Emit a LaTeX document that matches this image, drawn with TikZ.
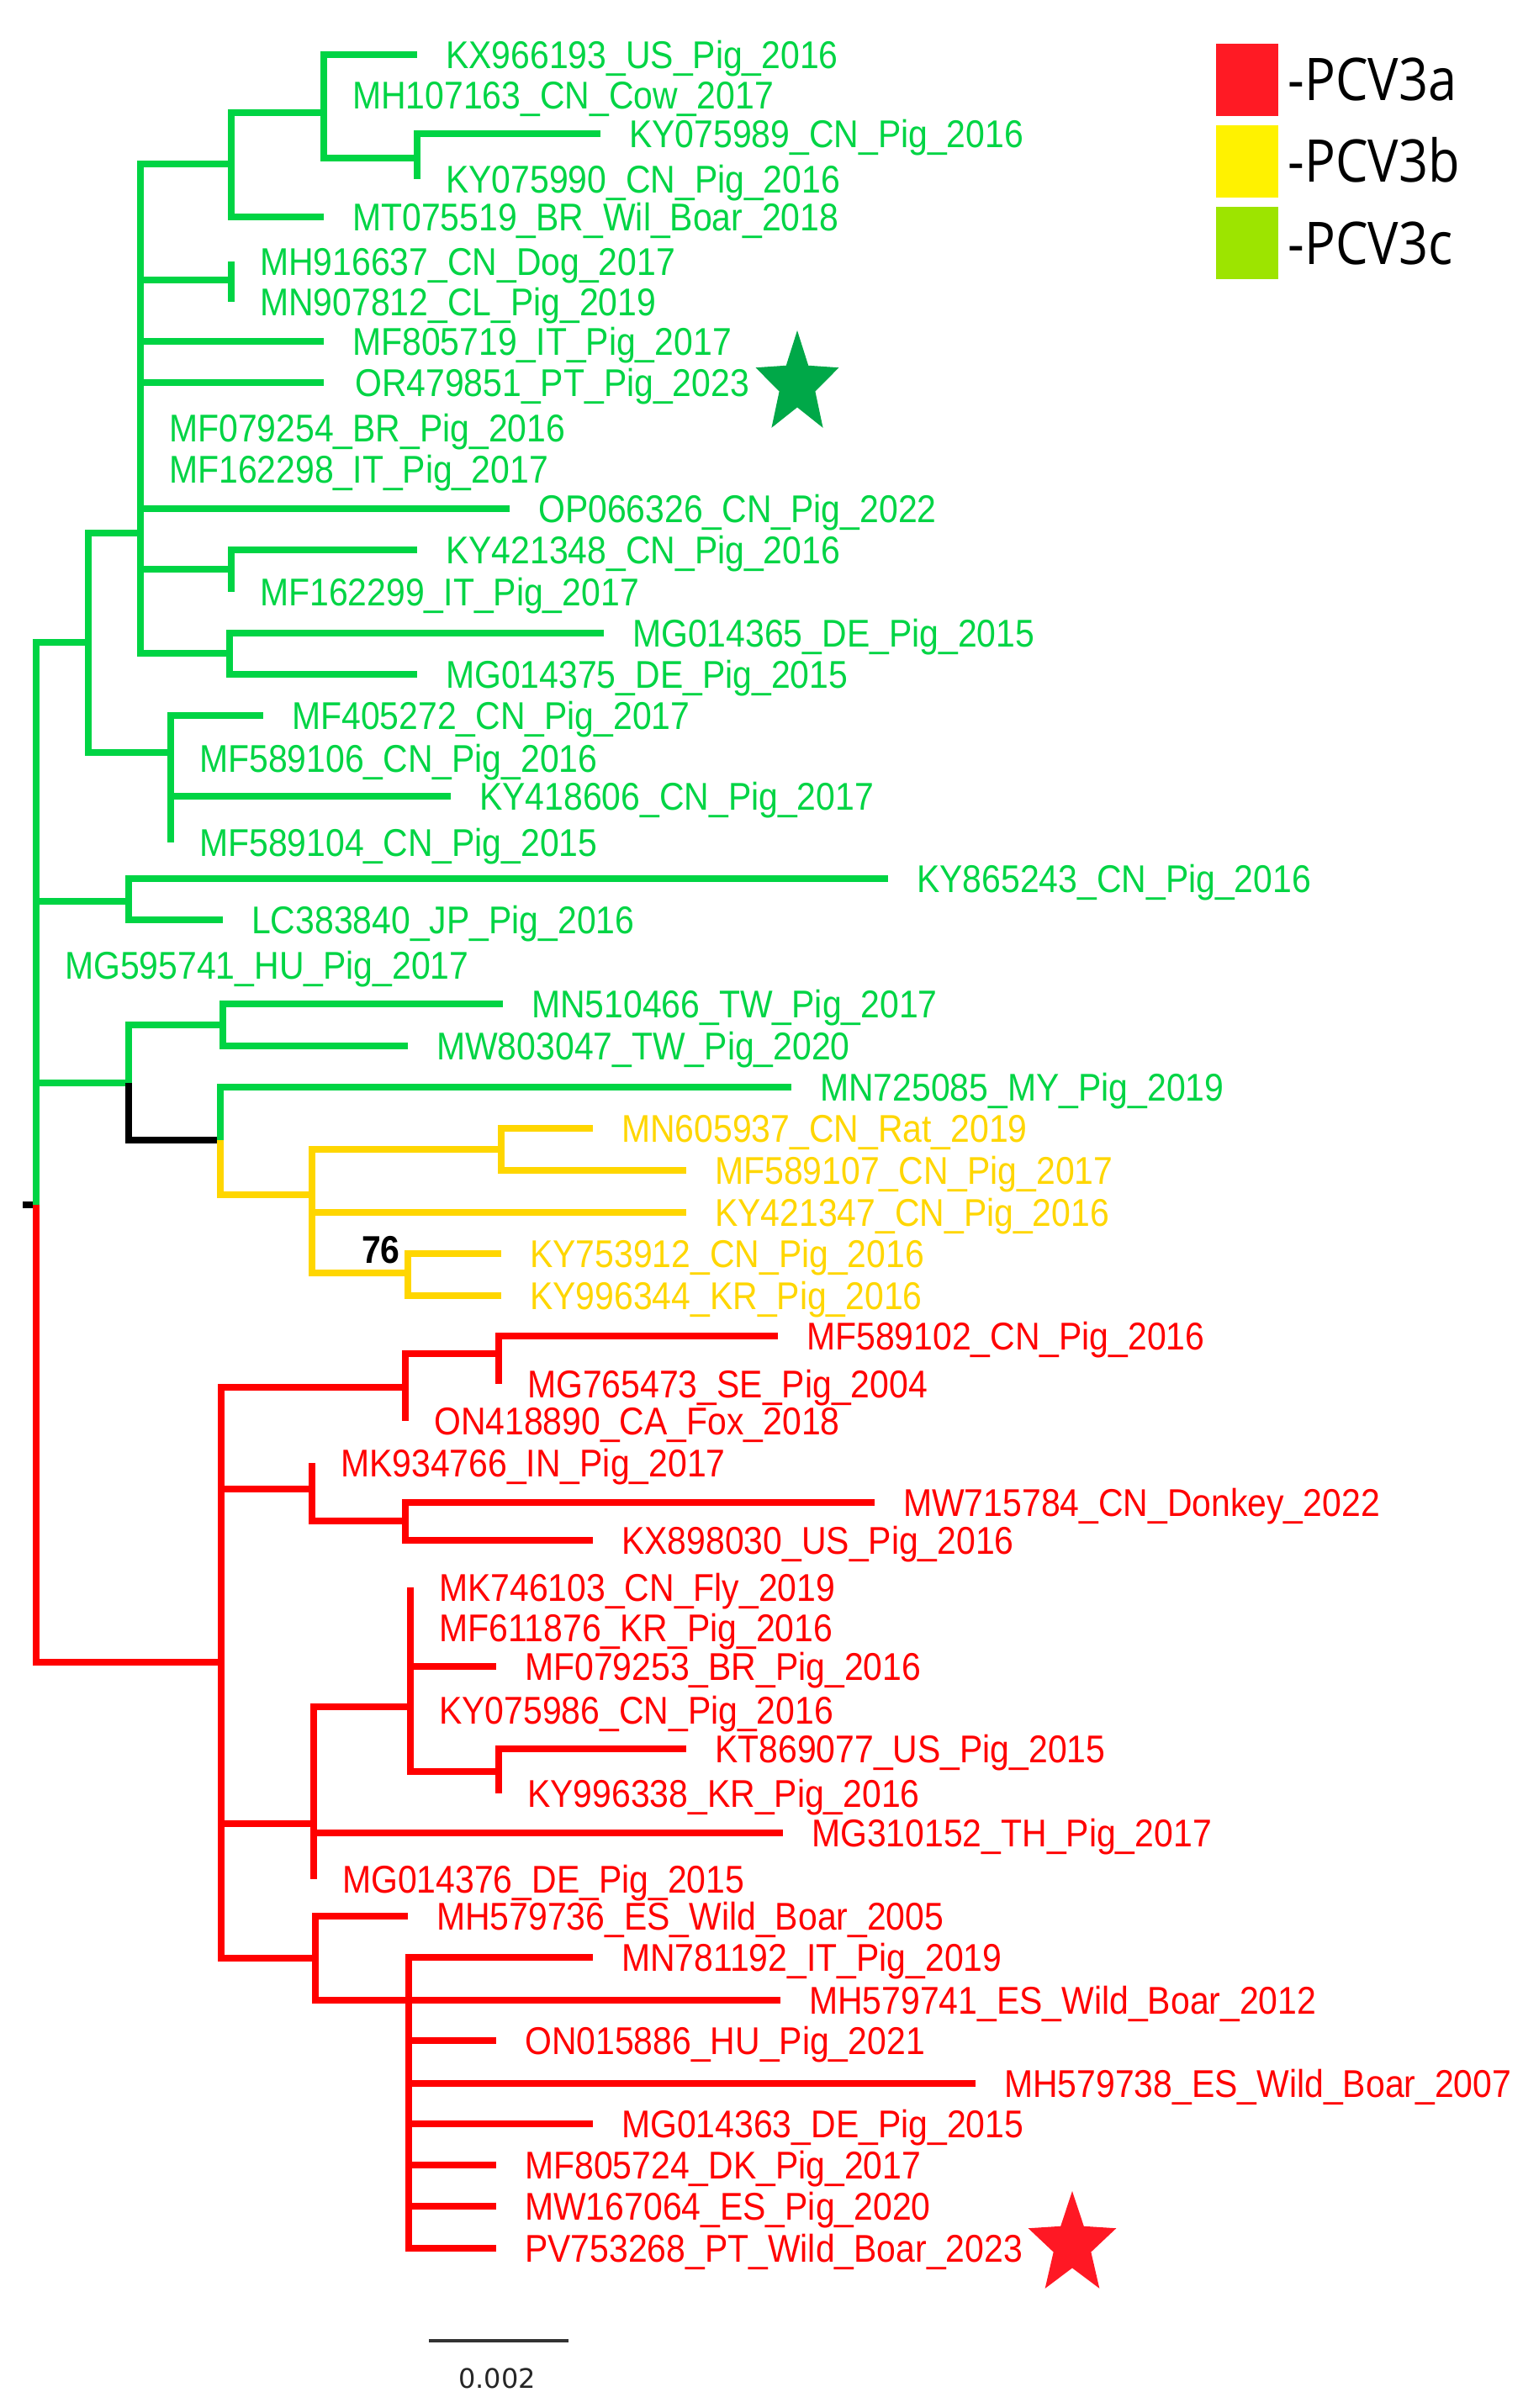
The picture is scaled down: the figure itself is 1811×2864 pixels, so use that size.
\documentclass[tikz,border=0pt]{standalone}
\usepackage{fontspec}
\usepackage{tikz}
\usetikzlibrary{positioning}

\newfontfamily\labfont[FakeStretch=0.89]{Liberation Sans}
\newfontfamily\legfont[FakeStretch=0.875]{Open Sans}
\newfontfamily\scafont{DejaVu Sans}

\definecolor{cgreen}{RGB}{0,212,68}
\definecolor{cyellow}{RGB}{255,214,0}
\definecolor{cred}{RGB}{255,0,0}
\definecolor{stargreen}{RGB}{0,168,72}
\definecolor{starred}{RGB}{255,24,36}
\definecolor{legred}{RGB}{255,26,36}
\definecolor{legyellow}{RGB}{255,242,0}
\definecolor{leggreen}{RGB}{157,228,0}

\tikzset{
    branch/.style={
    line width=8pt,line cap=butt,line join=miter,to path={|- (\tikztotarget)}
    },
    gbr/.style={branch,draw=cgreen},
    ybr/.style={branch,draw=cyellow},
    rbr/.style={branch,draw=cred},
    kbr/.style={branch,draw=black},
    tiplab/.style={
    anchor=west,inner sep=0pt,text height=33pt,text depth=0pt,
    font=\labfont\fontsize{46}{46}\selectfont
    },
    glab/.style={tiplab,text=cgreen},
    ylab/.style={tiplab,text=cyellow},
    rlab/.style={tiplab,text=cred},
    bootlab/.style={
    inner sep=0pt,text height=33pt,text depth=0pt,
    font=\labfont\bfseries\fontsize{46}{46}\selectfont
    },
    legbox/.style={
    rectangle,inner sep=0pt,minimum width=74pt,minimum height=86pt
    },
    legtxt/.style={
    anchor=west,inner sep=0pt,text height=50pt,text depth=0pt,
    font=\legfont\fontsize{70}{70}\selectfont
    },
    scalebar/.style={line width=4pt,draw=black!80},
    scalelab/.style={
    inner sep=0pt,text height=23pt,text depth=0pt,text=black!85,
    font=\scafont\fontsize{32}{32}\selectfont
    },
}

\begin{document}
\begin{tikzpicture}[x=1pt,y=-1pt,node distance=34pt]
   \useasboundingbox (0,0) rectangle (1811,2864);

   % inner nodes
   \coordinate (stem) at (27,1433);
   \coordinate (root) at (43,1433);
   \coordinate (g1) at (105,764);
   \coordinate (g2) at (167,634);
   \coordinate (g3) at (275,195);
   \coordinate (g4) at (385,134);
   \coordinate (g5) at (496,188);
   \coordinate (g6) at (275,333);
   \coordinate (g7) at (275,677);
   \coordinate (g8) at (273,777);
   \coordinate (g9) at (203,895);
   \coordinate (g10) at (153,1072);
   \coordinate (g11) at (153,1288);
   \coordinate (g12) at (265,1219);
   \coordinate (g13) at (262,1356);
   \coordinate (y1) at (371,1421);
   \coordinate (y2) at (596,1367);
   \coordinate (y3) at (485,1514);
   \coordinate (a1) at (263,1977);
   \coordinate (a2) at (482,1650);
   \coordinate (a3) at (593,1610);
   \coordinate (a4) at (371,1771);
   \coordinate (a5) at (482,1809);
   \coordinate (a6) at (373,2169);
   \coordinate (a7) at (488,2030);
   \coordinate (a8) at (593,2107);
   \coordinate (a9) at (375,2329);
   \coordinate (a10) at (486,2379);

   % PCV3c tips
   \coordinate (tKX966193) at (496,65);   \node[glab,right=of tKX966193] (KX966193) {KX966193\_US\_Pig\_2016};
   \coordinate (tMH107163) at (385,113);  \node[glab,right=of tMH107163] (MH107163) {MH107163\_CN\_Cow\_2017};
   \coordinate (tKY075989) at (714,159);  \node[glab,right=of tKY075989] (KY075989) {KY075989\_CN\_Pig\_2016};
   \coordinate (tKY075990) at (496,213);  \node[glab,right=of tKY075990] (KY075990) {KY075990\_CN\_Pig\_2016};
   \coordinate (tMT075519) at (385,258);  \node[glab,right=of tMT075519] (MT075519) {MT075519\_BR\_Wil\_Boar\_2018};
   \coordinate (tMH916637) at (275,311);  \node[glab,right=of tMH916637] (MH916637) {MH916637\_CN\_Dog\_2017};
   \coordinate (tMN907812) at (275,359);  \node[glab,right=of tMN907812] (MN907812) {MN907812\_CL\_Pig\_2019};
   \coordinate (tMF805719) at (385,406);  \node[glab,right=of tMF805719] (MF805719) {MF805719\_IT\_Pig\_2017};
   \coordinate (tOR479851) at (385,455);  \node[glab,right=37pt of tOR479851] (OR479851) {OR479851\_PT\_Pig\_2023};
   \coordinate (tMF079254) at (167,509);  \node[glab,right=of tMF079254] (MF079254) {MF079254\_BR\_Pig\_2016};
   \coordinate (tMF162298) at (167,558);  \node[glab,right=of tMF162298] (MF162298) {MF162298\_IT\_Pig\_2017};
   \coordinate (tOP066326) at (606,605);  \node[glab,right=of tOP066326] (OP066326) {OP066326\_CN\_Pig\_2022};
   \coordinate (tKY421348) at (496,654);  \node[glab,right=of tKY421348] (KY421348) {KY421348\_CN\_Pig\_2016};
   \coordinate (tMF162299) at (275,704);  \node[glab,right=of tMF162299] (MF162299) {MF162299\_IT\_Pig\_2017};
   \coordinate (tMG014365) at (718,753);  \node[glab,right=of tMG014365] (MG014365) {MG014365\_DE\_Pig\_2015};
   \coordinate (tMG014375) at (496,802);  \node[glab,right=of tMG014375] (MG014375) {MG014375\_DE\_Pig\_2015};
   \coordinate (tMF405272) at (313,851);  \node[glab,right=of tMF405272] (MF405272) {MF405272\_CN\_Pig\_2017};
   \coordinate (tMF589106) at (203,902);  \node[glab,right=of tMF589106] (MF589106) {MF589106\_CN\_Pig\_2016};
   \coordinate (tKY418606) at (536,947);  \node[glab,right=of tKY418606] (KY418606) {KY418606\_CN\_Pig\_2017};
   \coordinate (tMF589104) at (203,1002); \node[glab,right=of tMF589104] (MF589104) {MF589104\_CN\_Pig\_2015};
   \coordinate (tKY865243) at (1056,1045);\node[glab,right=of tKY865243] (KY865243) {KY865243\_CN\_Pig\_2016};
   \coordinate (tLC383840) at (265,1094); \node[glab,right=of tLC383840] (LC383840) {LC383840\_JP\_Pig\_2016};
   \coordinate (tMG595741) at (43,1148);  \node[glab,right=of tMG595741] (MG595741) {MG595741\_HU\_Pig\_2017};
   \coordinate (tMN510466) at (598,1194); \node[glab,right=of tMN510466] (MN510466) {MN510466\_TW\_Pig\_2017};
   \coordinate (tMW803047) at (485,1244); \node[glab,right=of tMW803047] (MW803047) {MW803047\_TW\_Pig\_2020};
   \coordinate (tMN725085) at (941,1293); \node[glab,right=of tMN725085] (MN725085) {MN725085\_MY\_Pig\_2019};

   % PCV3b tips
   \coordinate (tMN605937) at (705,1342); \node[ylab,right=of tMN605937] (MN605937) {MN605937\_CN\_Rat\_2019};
   \coordinate (tMF589107) at (816,1392); \node[ylab,right=of tMF589107] (MF589107) {MF589107\_CN\_Pig\_2017};
   \coordinate (tKY421347) at (816,1442); \node[ylab,right=of tKY421347] (KY421347) {KY421347\_CN\_Pig\_2016};
   \coordinate (tKY753912) at (596,1491); \node[ylab,right=of tKY753912] (KY753912) {KY753912\_CN\_Pig\_2016};
   \coordinate (tKY996344) at (596,1541); \node[ylab,right=of tKY996344] (KY996344) {KY996344\_KR\_Pig\_2016};

   % PCV3a tips
   \coordinate (tMF589102) at (925,1589); \node[rlab,right=of tMF589102] (MF589102) {MF589102\_CN\_Pig\_2016};
   \coordinate (tMG765473) at (593,1646); \node[rlab,right=of tMG765473] (MG765473) {MG765473\_SE\_Pig\_2004};
   \coordinate (tON418890) at (482,1690); \node[rlab,right=of tON418890] (ON418890) {ON418890\_CA\_Fox\_2018};
   \coordinate (tMK934766) at (371,1740); \node[rlab,right=of tMK934766] (MK934766) {MK934766\_IN\_Pig\_2017};
   \coordinate (tMW715784) at (1040,1787);\node[rlab,right=of tMW715784] (MW715784) {MW715784\_CN\_Donkey\_2022};
   \coordinate (tKX898030) at (705,1832); \node[rlab,right=of tKX898030] (KX898030) {KX898030\_US\_Pig\_2016};
   \coordinate (tMK746103) at (488,1888); \node[rlab,right=of tMK746103] (MK746103) {MK746103\_CN\_Fly\_2019};
   \coordinate (tMF611876) at (488,1936); \node[rlab,right=of tMF611876] (MF611876) {MF611876\_KR\_Pig\_2016};
   \coordinate (tMF079253) at (590,1982); \node[rlab,right=of tMF079253] (MF079253) {MF079253\_BR\_Pig\_2016};
   \coordinate (tKY075986) at (488,2034); \node[rlab,right=of tKY075986] (KY075986) {KY075986\_CN\_Pig\_2016};
   \coordinate (tKT869077) at (816,2080); \node[rlab,right=of tKT869077] (KT869077) {KT869077\_US\_Pig\_2015};
   \coordinate (tKY996338) at (593,2133); \node[rlab,right=of tKY996338] (KY996338) {KY996338\_KR\_Pig\_2016};
   \coordinate (tMG310152) at (931,2180); \node[rlab,right=of tMG310152] (MG310152) {MG310152\_TH\_Pig\_2017};
   \coordinate (tMG014376) at (373,2235); \node[rlab,right=of tMG014376] (MG014376) {MG014376\_DE\_Pig\_2015};
   \coordinate (tMH579736) at (485,2279); \node[rlab,right=of tMH579736] (MH579736) {MH579736\_ES\_Wild\_Boar\_2005};
   \coordinate (tMN781192) at (705,2328); \node[rlab,right=of tMN781192] (MN781192) {MN781192\_IT\_Pig\_2019};
   \coordinate (tMH579741) at (928,2379); \node[rlab,right=of tMH579741] (MH579741) {MH579741\_ES\_Wild\_Boar\_2012};
   \coordinate (tON015886) at (590,2427); \node[rlab,right=of tON015886] (ON015886) {ON015886\_HU\_Pig\_2021};
   \coordinate (tMH579738) at (1160,2478);\node[rlab,right=of tMH579738] (MH579738) {MH579738\_ES\_Wild\_Boar\_2007};
   \coordinate (tMG014363) at (705,2526); \node[rlab,right=of tMG014363] (MG014363) {MG014363\_DE\_Pig\_2015};
   \coordinate (tMF805724) at (590,2575); \node[rlab,right=of tMF805724] (MF805724) {MF805724\_DK\_Pig\_2017};
   \coordinate (tMW167064) at (590,2624); \node[rlab,right=of tMW167064] (MW167064) {MW167064\_ES\_Pig\_2020};
   \coordinate (tPV753268) at (590,2674); \node[rlab,right=of tPV753268] (PV753268) {PV753268\_PT\_Wild\_Boar\_2023};

   % branches
   \path (stem) edge[kbr] (root)
         (root) edge[gbr] (g1) edge[gbr] (g10) edge[gbr] (tMG595741) edge[gbr] (g11)
         (root) edge[rbr] (a1);
   \path (g1) edge[gbr] (g2) edge[gbr] (g9)
         (g2) edge[gbr] (g3) edge[gbr] (g6) edge[gbr] (tMF805719) edge[gbr] (tOR479851)
              edge[gbr] (tMF079254) edge[gbr] (tMF162298) edge[gbr] (tOP066326)
              edge[gbr] (g7) edge[gbr] (g8)
         (g3) edge[gbr] (g4) edge[gbr] (tMT075519)
         (g4) edge[gbr] (tKX966193) edge[gbr] (tMH107163) edge[gbr] (g5)
         (g5) edge[gbr] (tKY075989) edge[gbr] (tKY075990)
         (g6) edge[gbr] (tMH916637) edge[gbr] (tMN907812)
         (g7) edge[gbr] (tKY421348) edge[gbr] (tMF162299)
         (g8) edge[gbr] (tMG014365) edge[gbr] (tMG014375)
         (g9) edge[gbr] (tMF405272) edge[gbr] (tMF589106) edge[gbr] (tKY418606) edge[gbr] (tMF589104)
         (g10) edge[gbr] (tKY865243) edge[gbr] (tLC383840)
         (g11) edge[gbr] (g12) edge[kbr] (g13)
         (g12) edge[gbr] (tMN510466) edge[gbr] (tMW803047)
         (g13) edge[gbr] (tMN725085) edge[ybr] (y1);
   \path (y1) edge[ybr] (y2) edge[ybr] (tKY421347) edge[ybr] (y3)
         (y2) edge[ybr] (tMN605937) edge[ybr] (tMF589107)
         (y3) edge[ybr] (tKY753912) edge[ybr] (tKY996344);
   \path (a1) edge[rbr] (a2) edge[rbr] (a4) edge[rbr] (a6) edge[rbr] (a9)
         (a2) edge[rbr] (a3) edge[rbr] (tON418890)
         (a3) edge[rbr] (tMF589102) edge[rbr] (tMG765473)
         (a4) edge[rbr] (tMK934766) edge[rbr] (a5)
         (a5) edge[rbr] (tMW715784) edge[rbr] (tKX898030)
         (a6) edge[rbr] (a7) edge[rbr] (tMG310152) edge[rbr] (tMG014376)
         (a7) edge[rbr] (tMK746103) edge[rbr] (tMF611876) edge[rbr] (tMF079253)
              edge[rbr] (tKY075986) edge[rbr] (a8)
         (a8) edge[rbr] (tKT869077) edge[rbr] (tKY996338)
         (a9) edge[rbr] (tMH579736) edge[rbr] (a10)
         (a10) edge[rbr] (tMN781192) edge[rbr] (tMH579741) edge[rbr] (tON015886)
               edge[rbr] (tMH579738) edge[rbr] (tMG014363) edge[rbr] (tMF805724)
               edge[rbr] (tMW167064) edge[rbr] (tPV753268);

   % bootstrap
   \node[bootlab] (bs76) at (453,1486) {76};

   % stars for the new sequences
   \fill[stargreen] plot[samples at={0,...,9}]
      ({948+ifthenelse(mod(\x,2)==0,52,22.5)*cos(90+36*\x)},{457-ifthenelse(mod(\x,2)==0,64,27.5)*sin(90+36*\x)}) -- cycle;
   \fill[starred] plot[samples at={0,...,9}]
      ({1275+ifthenelse(mod(\x,2)==0,55,23.5)*cos(90+36*\x)},{2670-ifthenelse(mod(\x,2)==0,64,27.5)*sin(90+36*\x)}) -- cycle;

   % legend
   \node[legbox,fill=legred] (sqA) at (1483,94.5) {};
   \node[legbox,fill=legyellow] (sqB) at (1483,191.5) {};
   \node[legbox,fill=leggreen] (sqC) at (1483,289) {};
   \node[legtxt,right=11pt of sqA] (txA) {-PCV3a};
   \node[legtxt,right=11pt of sqB] (txB) {-PCV3b};
   \node[legtxt,right=11pt of sqC] (txC) {-PCV3c};

   % scale bar
   \coordinate (sbL) at (510,2784);
   \coordinate (sbR) at (676,2784);
   \coordinate (sbM) at (591,2784);
   \draw[scalebar] (sbL) -- (sbR);
   \node[scalelab,below=33pt of sbM] (sbtxt) {0.002};
\end{tikzpicture}
\end{document}
